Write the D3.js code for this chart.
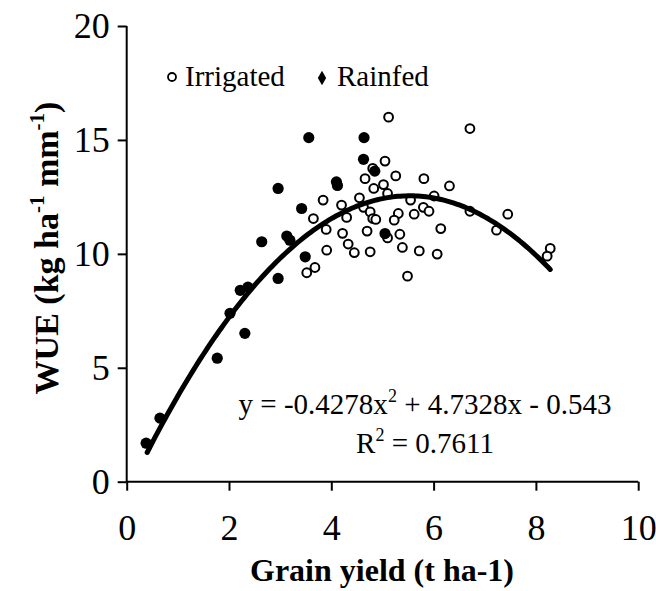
<!DOCTYPE html>
<html>
<head>
<meta charset="utf-8">
<script src="https://cdn.jsdelivr.net/npm/d3@7"></script>
<style>
html,body{margin:0;padding:0;background:#fff;}
svg{display:block;font-family:"Liberation Serif","Times New Roman",serif;}
</style>
</head>
<body>
<svg id="chart" width="656" height="591"></svg>
<script>
// ---- data ----
const xTicks = [0, 2, 4, 6, 8, 10];
const yTicks = [0, 5, 10, 15, 20];
const irrigatedX = [5.12,6.71,5.05,4.81,5.26,4.66,5.81,5.02,6.31,4.83,5.10,4.55,3.84,5.55,6.01,4.20,4.63,4.76,5.80,5.91,6.71,5.31,5.62,3.65,4.30,4.81,4.87,5.23,7.23,3.90,4.70,4.22,5.34,6.14,5.10,4.33,5.39,3.91,4.45,4.76,5.72,6.07,3.68,3.52,5.49,7.45,8.28,8.22];
const irrigatedY = [16.0,15.5,14.07,13.75,13.42,13.3,13.3,13.04,12.98,12.87,12.65,12.46,12.36,12.36,12.54,12.14,12.04,11.84,12.04,11.87,11.87,11.77,11.74,11.55,11.6,11.55,11.51,11.48,11.04,11.07,11.0,10.9,10.86,11.11,10.7,10.43,10.28,10.16,10.05,10.09,10.13,9.99,9.40,9.17,9.02,11.74,10.24,9.9];
const rainfedX = [0.38,0.65,1.77,2.02,2.22,2.37,2.31,2.64,2.96,2.96,3.13,3.19,3.42,3.56,3.49,4.64,4.63,4.10,4.12,4.85,5.05];
const rainfedY = [1.69,2.79,5.42,7.39,8.4,8.54,6.51,10.53,12.87,8.92,10.78,10.6,11.99,15.1,9.87,15.1,14.15,13.16,13.0,13.63,10.89];
const trendCoef = [-0.4278, 4.7328, -0.543]; // a, b, c
const trendRange = [0.4, 8.28];
const seriesNames = ["Irrigated", "Rainfed"];

// ---- layout ----
const svg = d3.select("#chart");
const x = d3.scaleLinear().domain([0, 10]).range([126.7, 638.2]);
const y = d3.scaleLinear().domain([0, 20]).range([481.7, 26]);

// axes
const xAxis = d3.axisBottom(x).tickValues(xTicks).tickSize(9).tickPadding(24).tickFormat(d3.format("d"));
const yAxis = d3.axisLeft(y).tickValues(yTicks).tickSize(9).tickPadding(8).tickFormat(d3.format("d"));

const gx = svg.append("g").attr("transform", `translate(0,${y(0)})`).call(xAxis);
const gy = svg.append("g").attr("transform", `translate(${x(0)},0)`).call(yAxis);
[gx, gy].forEach(g => {
  g.select(".domain").attr("stroke", "#000").attr("stroke-width", 2);
  g.selectAll(".tick line").attr("stroke", "#000").attr("stroke-width", 2);
  g.selectAll(".tick text").attr("fill", "#000").style("font-size", "36px")
    .style("font-family", '"Liberation Serif","Times New Roman",serif');
});
gx.select(".domain").attr("d", `M${x(0)},0H${x(10)}`);
gy.select(".domain").attr("d", `M0,${y(0)}V${y(20)}`);

// points
const irr = irrigatedX.map((v, i) => ({x: v, y: irrigatedY[i]}));
const rain = rainfedX.map((v, i) => ({x: v, y: rainfedY[i]}));

svg.append("g").selectAll("circle").data(irr).join("circle")
  .attr("cx", d => x(d.x)).attr("cy", d => y(d.y)).attr("r", 4.4)
  .attr("fill", "#fff").attr("stroke", "#000").attr("stroke-width", 2);

svg.append("g").selectAll("circle").data(rain).join("circle")
  .attr("cx", d => x(d.x)).attr("cy", d => y(d.y)).attr("r", 5.6)
  .attr("fill", "#000");

// trendline
const f = t => trendCoef[0]*t*t + trendCoef[1]*t + trendCoef[2];
const tx = d3.range(trendRange[0], trendRange[1], 0.05).concat([trendRange[1]]);
svg.append("path")
  .datum(tx)
  .attr("d", d3.line().x(d => x(d)).y(d => y(f(d))))
  .attr("fill", "none").attr("stroke", "#000").attr("stroke-width", 5)
  .attr("stroke-linecap", "round");

// equation
const eq = svg.append("text").attr("x", 425).attr("y", 414).attr("text-anchor", "middle")
  .style("font-size", "29px").attr("fill", "#000");
eq.append("tspan").text("y = -0.4278x");
eq.append("tspan").attr("dy", -12).style("font-size", "18px").text("2");
eq.append("tspan").attr("dy", 12).text(" + 4.7328x - 0.543");

const r2 = svg.append("text").attr("x", 425).attr("y", 453).attr("text-anchor", "middle")
  .style("font-size", "29px").attr("fill", "#000");
r2.append("tspan").text("R");
r2.append("tspan").attr("dy", -12).style("font-size", "18px").text("2");
r2.append("tspan").attr("dy", 12).text(" = 0.7611");

// legend
const lg = svg.append("g");
lg.append("circle").attr("cx", 172).attr("cy", 77).attr("r", 4).attr("fill", "#fff")
  .attr("stroke", "#000").attr("stroke-width", 1.8);
lg.append("text").attr("x", 185).attr("y", 86).style("font-size", "29px").text(seriesNames[0]);
lg.append("path").attr("d", d3.symbol(d3.symbolDiamond, 60)()).attr("transform", "translate(322,78)")
  .attr("fill", "#000");
lg.append("text").attr("x", 337).attr("y", 86).style("font-size", "29px").text(seriesNames[1]);

// axis titles
svg.append("text").attr("x", 382).attr("y", 581).attr("text-anchor", "middle")
  .style("font-size", "32px").style("font-weight", "bold").text("Grain yield (t ha-1)");

const yt = svg.append("text").attr("transform", "translate(58,248) rotate(-90)")
  .attr("text-anchor", "middle").style("font-size", "34px").style("font-weight", "bold");
yt.append("tspan").text("WUE (kg ha");
yt.append("tspan").attr("dy", -14).style("font-size", "21px").text("-1");
yt.append("tspan").attr("dy", 14).text(" mm");
yt.append("tspan").attr("dy", -14).style("font-size", "21px").text("-1");
yt.append("tspan").attr("dy", 14).text(")");
</script>
</body>
</html>
